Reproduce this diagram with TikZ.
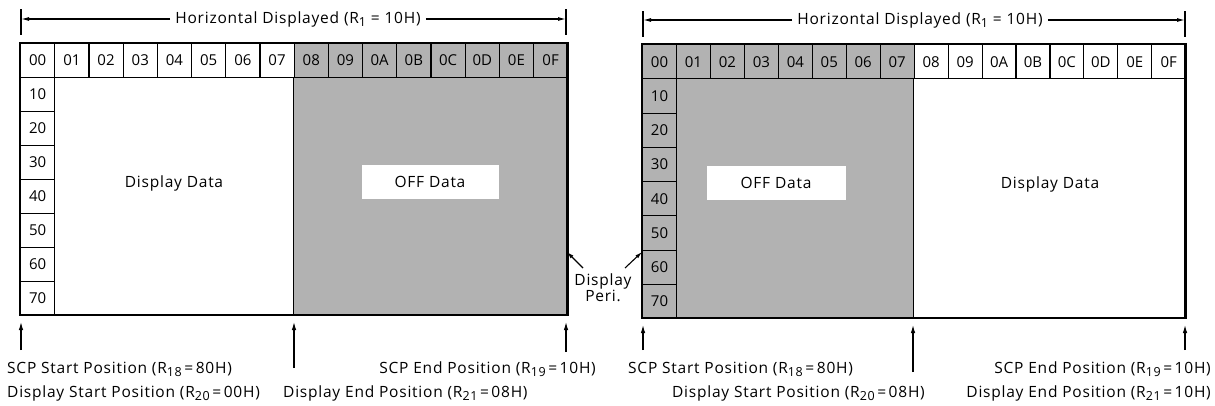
\documentclass[tikz,border=0pt]{standalone}
\usepackage{fontspec}
\setmainfont{Open Sans}
\newfontfamily\lblfont{Open Sans}[LetterSpace=5]
\usetikzlibrary{arrows.meta}
\newcommand\Rsub[1]{R\raisebox{-3.2pt}{\fontsize{12.5}{13}\selectfont #1}}
\tikzset{
  txt/.style={font=\lblfont\fontsize{15.5}{17}\selectfont,inner sep=0pt},
  cell/.style={draw=black,line width=1.1pt,minimum height=34pt,inner sep=0pt,anchor=north west,font=\fontsize{15}{16}\selectfont},
  outer/.style={line width=2.6pt},
  thin/.style={line width=1.1pt},
  shade/.style={fill=black!30},
  arr/.style={line width=1.1pt,-{Latex[length=8pt,width=4.5pt]}},
  offbox/.style={fill=white,minimum height=34pt,inner sep=0pt,font=\lblfont\fontsize{15.5}{17}\selectfont},
}
\begin{document}
\begin{tikzpicture}[x=1pt,y=-1pt]
\useasboundingbox (0,0) rectangle (1215,405);
% ===== LEFT DIAGRAM =====
\def\wL{34.2}
\fill[shade] ({20+8*\wL},43) rectangle ({20+16*\wL},315);
\node[offbox,minimum width=137pt] (offL) at (430,182) {OFF Data};
\node[txt] (dispL) at (174,183) {Display Data};
\foreach \lab [count=\i from 0] in {00,01,02,03,04,05,06,07,08,09,0A,0B,0C,0D,0E,0F}
  \node[cell,minimum width=\wL pt] (L\i) at ({20+\i*\wL},43) {\lab};
\foreach \lab [count=\j from 1] in {10,20,30,40,50,60,70}
  \node[cell,minimum width=\wL pt] (LR\j) at (20,{43+\j*34}) {\lab};
\draw[thin] (L8.south west) -- ({20+8*\wL},315);
\draw[outer] (20,43) rectangle ({20+16*\wL},315);
% top dimension
\node[txt] (hL) at (298,19) {Horizontal Displayed (\Rsub{1} = 10H)};
\coordinate (hLa) at (21,19);
\coordinate (hLb) at (566,19);
\draw[thin] (21,9) -- (21,35);
\draw[thin] (566,9) -- (566,35);
\draw[line width=1.1pt,-{Latex[length=8pt,width=4pt]}] ([xshift=-5pt]hL.west) -- (hLa);
\draw[line width=1.1pt,-{Latex[length=8pt,width=4pt]}] ([xshift=5pt]hL.east) -- (hLb);
% bottom arrows
\coordinate (bL1t) at (21,322); \coordinate (bL1s) at (21,350);
\coordinate (bL2t) at (294,322); \coordinate (bL2s) at (294,368);
\coordinate (bL3t) at (566,322); \coordinate (bL3s) at (566,352);
\draw[arr] (bL1s) -- (bL1t);
\draw[arr] (bL2s) -- (bL2t);
\draw[arr] (bL3s) -- (bL3t);
\node[txt,anchor=west] (scpsL) at (7,369) {SCP Start Position (\Rsub{18}\,=\,80H)};
\node[txt,anchor=west] (dspsL) at (7,393) {Display Start Position (\Rsub{20}\,=\,00H)};
\node[txt,anchor=west] (dspeL) at (283,393) {Display End Position (\Rsub{21}\,=\,08H)};
\node[txt,anchor=east] (scpeL) at (596,369) {SCP End Position (\Rsub{19}\,=\,10H)};
% ===== Display Peri. =====
\node[txt,align=center] (peri) at (603,288) {Display\\[-1pt]Peri.};
\coordinate (periL) at (567,252);
\coordinate (periR) at (642,252);
\draw[line width=1.1pt,-{Latex[length=7pt,width=4pt]}] (583,268) -- (periL);
\draw[line width=1.1pt,-{Latex[length=7pt,width=4pt]}] (625,268) -- (periR);
% ===== RIGHT DIAGRAM =====
\def\wR{33.95}
\fill[shade] (642,44) rectangle ({642+8*\wR},318);
\node[offbox,minimum width=139pt] (offR) at (776,183) {OFF Data};
\node[txt] (dispR) at (1050,184) {Display Data};
\foreach \lab [count=\i from 0] in {00,01,02,03,04,05,06,07,08,09,0A,0B,0C,0D,0E,0F}
  \node[cell,minimum width=\wR pt,minimum height=34.25pt] (R\i) at ({642+\i*\wR},44) {\lab};
\foreach \lab [count=\j from 1] in {10,20,30,40,50,60,70}
  \node[cell,minimum width=\wR pt,minimum height=34.25pt] (RR\j) at (642,{44+\j*34.25}) {\lab};
\draw[thin] (R8.south west) -- ({642+8*\wR},318);
\draw[outer] (642,44) rectangle ({642+16*\wR},318);
% top dimension
\node[txt] (hR) at (920,20) {Horizontal Displayed (\Rsub{1} = 10H)};
\coordinate (hRa) at (643,20);
\coordinate (hRb) at (1185,20);
\draw[thin] (643,11) -- (643,37);
\draw[thin] (1185,11) -- (1185,37);
\draw[line width=1.1pt,-{Latex[length=8pt,width=4pt]}] ([xshift=-5pt]hR.west) -- (hRa);
\draw[line width=1.1pt,-{Latex[length=8pt,width=4pt]}] ([xshift=5pt]hR.east) -- (hRb);
% bottom arrows
\coordinate (bR1t) at (643,325); \coordinate (bR1s) at (643,350);
\coordinate (bR2t) at (913,325); \coordinate (bR2s) at (913,372);
\coordinate (bR3t) at (1185,325); \coordinate (bR3s) at (1185,350);
\draw[arr] (bR1s) -- (bR1t);
\draw[arr] (bR2s) -- (bR2t);
\draw[arr] (bR3s) -- (bR3t);
\node[txt,anchor=west] (scpsR) at (628,369) {SCP Start Position (\Rsub{18}\,=\,80H)};
\node[txt,anchor=east] (dspsR) at (925,393) {Display Start Position (\Rsub{20}\,=\,08H)};
\node[txt,anchor=east] (scpeR) at (1211,369) {SCP End Position (\Rsub{19}\,=\,10H)};
\node[txt,anchor=east] (dspeR) at (1211,393) {Display End Position (\Rsub{21}\,=\,10H)};
\end{tikzpicture}
\end{document}
